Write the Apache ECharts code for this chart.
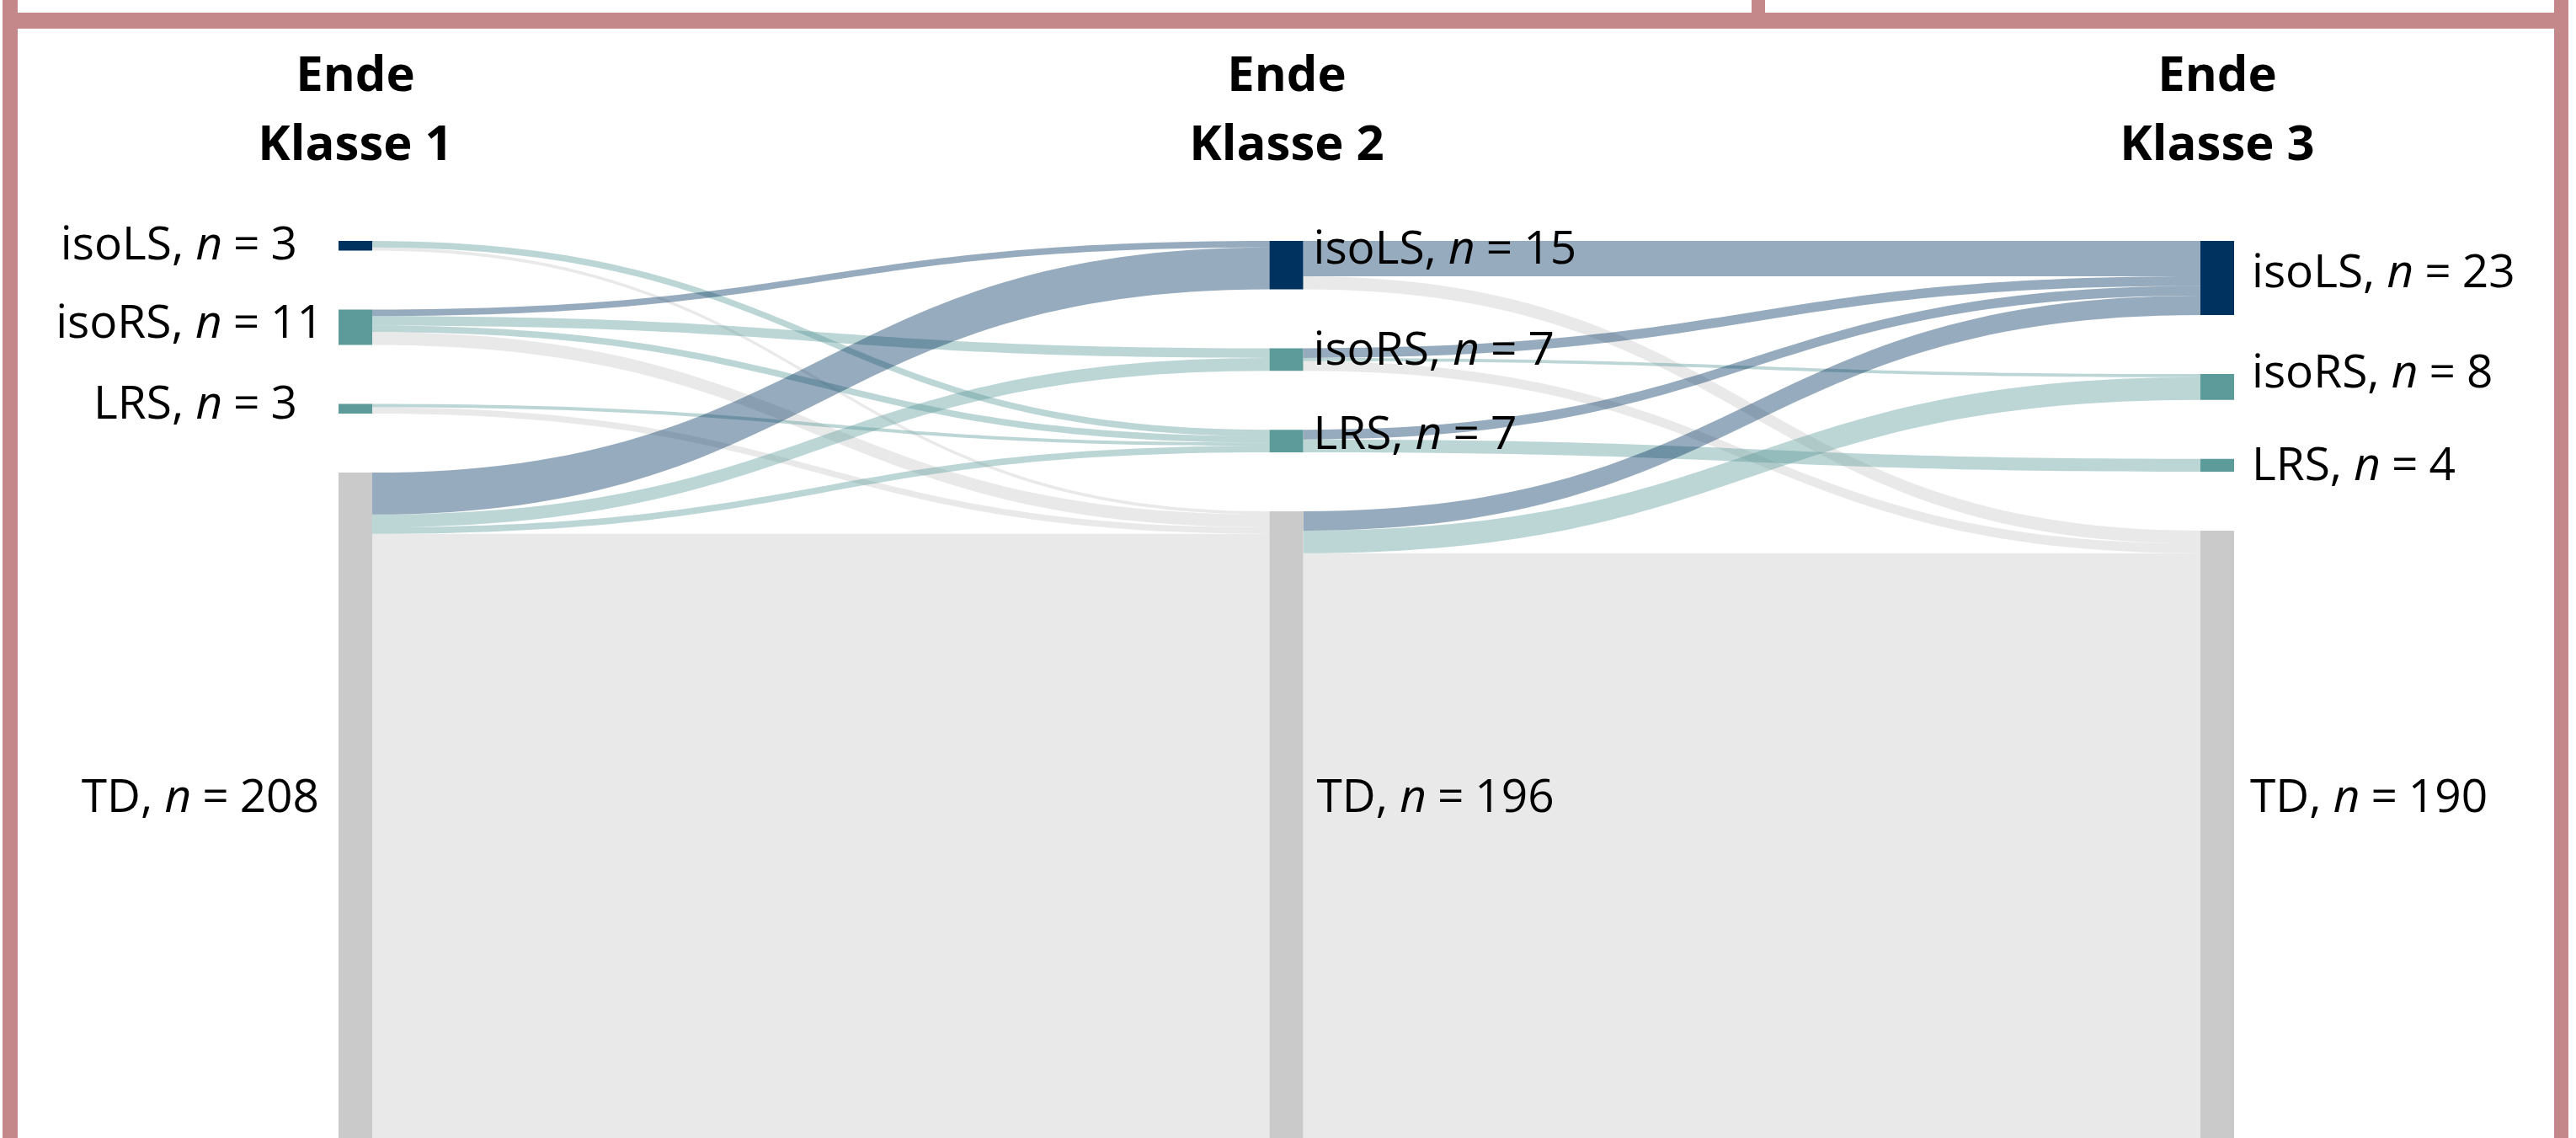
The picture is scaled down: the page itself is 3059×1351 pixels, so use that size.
<!DOCTYPE html>
<html><head><meta charset="utf-8">
<script src="https://cdn.jsdelivr.net/npm/echarts@6/dist/echarts.min.js"></script>
<style>html,body{margin:0;padding:0;background:#fff;overflow:hidden}#c{width:3059px;height:1351px}</style>
</head><body><div id="c"></div>
<script>
// ---- data ----
const stages = ['Ende\nKlasse 1', 'Ende\nKlasse 2', 'Ende\nKlasse 3'];
const groups = ['isoLS', 'isoRS', 'LRS', 'TD'];
const countsK1 = [3, 11, 3, 208];
const countsK2 = [15, 7, 7, 196];
const countsK3 = [23, 8, 4, 190];
// [from group index, to group index, n]
const flowK1K2 = [
  [0, 2, 2], [0, 3, 1],
  [1, 0, 2], [1, 1, 3], [1, 2, 2], [1, 3, 4],
  [2, 2, 1], [2, 3, 2],
  [3, 0, 13], [3, 1, 4], [3, 2, 2], [3, 3, 189]
];
const flowK2K3 = [
  [0, 0, 11], [0, 3, 4],
  [1, 0, 3], [1, 1, 1], [1, 3, 3],
  [2, 0, 3], [2, 2, 4],
  [3, 0, 6], [3, 1, 7], [3, 3, 183]
];

// ---- styles ----
const groupColors = ['#00325F', '#5D9A9A', '#5D9A9A', '#CACACA'];
const labelDist = [[49, 18, 49, 23], [12, 12, 12, 16], [21, 21, 21, 19]];
const labelDy = [[1, -3, -4, -11], [-17, -9, -6, -34], [-5, -15, 2, -45]];
const headerX = [422, 1528, 2633];
const FONT = '"Open Sans", "Noto Sans", sans-serif';
const frame = '#C4878A';

const counts = [countsK1, countsK2, countsK3];
const flows = [flowK1K2, flowK2K3];

const nodes = [];
counts.forEach((arr, s) => {
  groups.forEach((g, gi) => {
    nodes.push({
      name: g + '_' + (s + 1),
      itemStyle: { color: groupColors[gi] },
      label: {
        position: s === 0 ? 'left' : 'right',
        distance: labelDist[s][gi],
        offset: [0, labelDy[s][gi]],
        formatter: '{a|' + g + ', }{i|n}{e|=}{a|' + arr[gi] + '}'
      }
    });
  });
});
const links = [];
flows.forEach((fl, s) => {
  fl.forEach(([a, b, v]) => {
    links.push({ source: groups[a] + '_' + (s + 1), target: groups[b] + '_' + (s + 2), value: v });
  });
});

const chart = echarts.init(document.getElementById('c'), null, { renderer: 'canvas' });
chart.setOption({
  backgroundColor: '#fff',
  animation: false,
  graphic: [
    { type: 'rect', shape: { x: 3, y: 0, width: 18, height: 1351 }, style: { fill: frame }, silent: true },
    { type: 'rect', shape: { x: 3, y: 15, width: 3047, height: 19 }, style: { fill: frame }, silent: true },
    { type: 'rect', shape: { x: 3033, y: 0, width: 17, height: 1351 }, style: { fill: frame }, silent: true },
    { type: 'rect', shape: { x: 2080, y: 0, width: 16, height: 15 }, style: { fill: frame }, silent: true }
  ].concat(stages.map((t, i) => ({
    type: 'text', x: headerX[i], y: 50, silent: true,
    style: { text: t, align: 'center', verticalAlign: 'top', fontFamily: FONT, fontWeight: 'bold', fontSize: 58, lineHeight: 82, fill: '#000' }
  }))),
  series: [{
    type: 'sankey',
    left: 402, right: 406, top: 286, bottom: -6,
    nodeWidth: 40,
    nodeGap: 70,
    layoutIterations: 0,
    nodeAlign: 'justify',
    draggable: false,
    silent: true,
    emphasis: { disabled: true },
    data: nodes,
    links: links,
    itemStyle: { borderWidth: 0 },
    lineStyle: { color: 'target', opacity: 0.41, curveness: 0.5 },
    label: {
      show: true,
      color: '#000',
      rich: {
        a: { fontFamily: FONT, fontSize: 55, color: '#000' },
        i: { fontFamily: FONT, fontSize: 55, fontStyle: 'italic', color: '#000' },
        e: { fontFamily: FONT, fontSize: 55, color: '#000', padding: [0, 13, 0, 13] }
      }
    }
  }]
});
</script></body></html>
